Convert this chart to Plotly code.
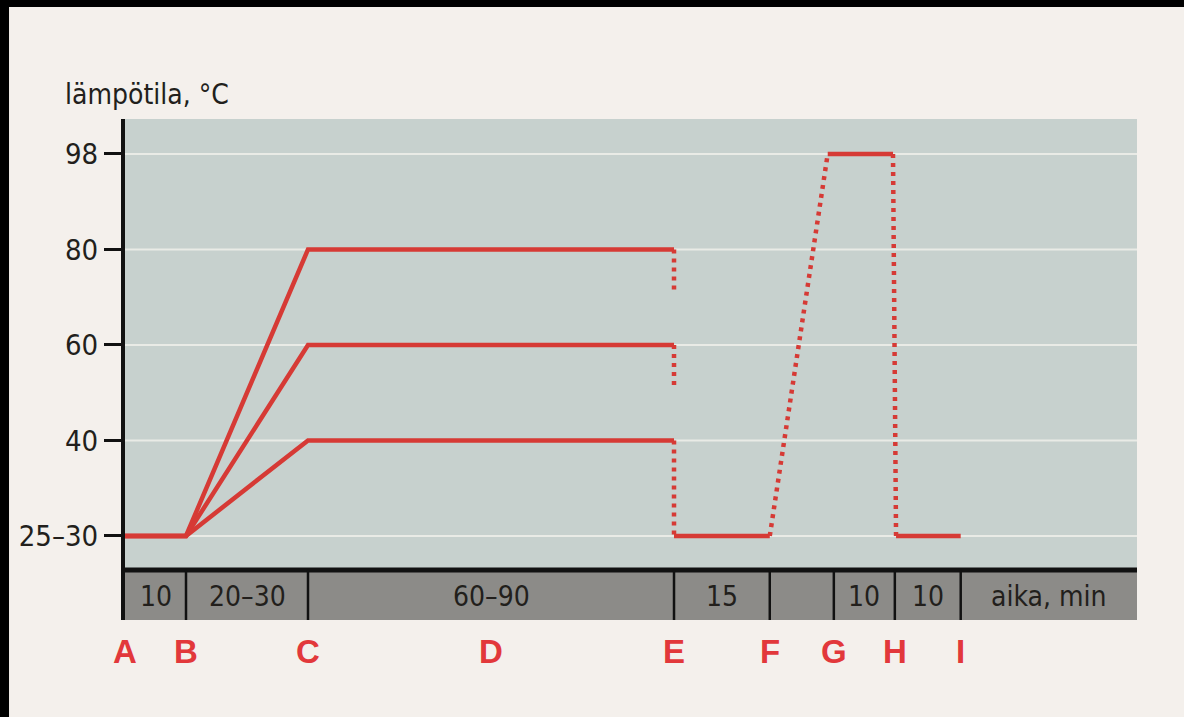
import numpy as np
import plotly.graph_objects as go

# ---------------- data ----------------
# temperature axis (evenly spaced schematic levels)
tick_temps = [27.5, 40, 60, 80, 98]
tick_labels = ["25–30", "40", "60", "80", "98"]

# stage boundaries along the schematic time axis
stage_letters = ["A", "B", "C", "E", "F", "G", "H", "I"]
stage_x = [0, 10, 30, 90, 105.7, 116.2, 126.2, 137]
mid_letter = "D"
mid_x = 60
x_end = 165.9

# durations written in the time band (between consecutive boundaries, last to end)
band_labels = ["10", "20–30", "60–90", "15", "", "10", "10", "aika, min"]

# heating / holding curves
base_temp = 27.5
hold_temps = [80, 60, 40]
heat_x = [0, 10, 30, 90]
drop_to = [71, 51, 27.5]          # end of the dotted drop at E

# after-phase: cool, boil at 98, cool again
after_x = [90, 105.7, 115.2, 125.9, 126.4, 137]
after_y = [27.5, 27.5, 98, 98, 27.5, 27.5]
after_dash = ["solid", "dot", "solid", "dot", "solid"]

# ---------------- styles ----------------
RED = "#d63a35"
LETTER_RED = "#e2383b"
PLOT_BG = "#c7d1ce"
BAND = "#8c8b88"
PAPER = "#f4f0ec"
INK = "#221f1c"
FONT = "Liberation Sans Narrow, Arial Narrow, DejaVu Sans Condensed, sans-serif"
LW = 4.5
DOT = "4px,5px"


def ypos(t):
    """Map temperature to the evenly spaced schematic level."""
    return np.interp(t, tick_temps, np.arange(len(tick_temps)))


fig = go.Figure()

for T in hold_temps:
    fig.add_trace(go.Scatter(
        x=heat_x, y=ypos([base_temp, base_temp, T, T]),
        mode="lines", line=dict(color=RED, width=LW), hoverinfo="skip"))

for T, d in zip(hold_temps, drop_to):
    fig.add_trace(go.Scatter(
        x=[heat_x[-1], heat_x[-1]], y=ypos([T, d]),
        mode="lines", line=dict(color=RED, width=LW, dash=DOT), hoverinfo="skip"))

for i, ds in enumerate(after_dash):
    fig.add_trace(go.Scatter(
        x=after_x[i:i + 2], y=ypos(after_y[i:i + 2]),
        mode="lines",
        line=dict(color=RED, width=LW, dash="solid" if ds == "solid" else DOT),
        hoverinfo="skip"))

y_top = 4.366
band_top = -0.356
band_bot = -0.88

shapes = []
# grid lines at each tick level
for v in range(len(tick_temps)):
    shapes.append(dict(type="line", xref="paper", x0=0, x1=1, yref="y", y0=v, y1=v,
                       line=dict(color="#e9ebe6", width=2), layer="below"))
# time band
shapes.append(dict(type="rect", xref="paper", x0=0, x1=1, yref="y", y0=band_bot, y1=band_top,
                   fillcolor=BAND, line=dict(width=0), layer="below"))
shapes.append(dict(type="line", xref="paper", x0=0, x1=1, yref="y", y0=band_top, y1=band_top,
                   line=dict(color="#111", width=5)))
for xb in stage_x[1:]:
    shapes.append(dict(type="line", xref="x", x0=xb, x1=xb, yref="y", y0=band_top, y1=band_bot,
                       line=dict(color="#111", width=2.5)))
# black photo borders (top and left)
shapes.append(dict(type="rect", xref="paper", x0=-0.13, x1=1.05, yref="paper", y0=1.2236, y1=1.26,
                   fillcolor="black", line=dict(width=0)))
shapes.append(dict(type="rect", xref="paper", x0=-0.13, x1=-0.1146, yref="paper", y0=-0.2, y1=1.26,
                   fillcolor="black", line=dict(width=0)))

annotations = []
# stage letters
for L, xb in list(zip(stage_letters, stage_x)) + [(mid_letter, mid_x)]:
    annotations.append(dict(x=xb, y=-0.062, xref="x", yref="paper", text=L, showarrow=False,
                            font=dict(family="Liberation Sans, Arial, sans-serif", size=33,
                                      color=LETTER_RED, weight="bold"),
                            xanchor="center", yanchor="middle"))
# band labels
edges = stage_x + [x_end]
for lab, a, b in zip(band_labels, edges[:-1], edges[1:]):
    if lab:
        annotations.append(dict(x=(a + b) / 2, y=(band_top + band_bot) / 2 - 0.02, xref="x", yref="y",
                                text=lab, showarrow=False,
                                font=dict(family=FONT, size=28, color=INK),
                                xanchor="center", yanchor="middle"))
# axis title
annotations.append(dict(x=-0.0613, y=1.048, xref="paper", yref="paper", text="lämpötila, °C",
                        showarrow=False, font=dict(family=FONT, size=28, color=INK),
                        xanchor="left", yanchor="middle"))

fig.update_layout(
    width=1184, height=717,
    margin=dict(l=125, r=47, t=119, b=97),
    paper_bgcolor=PAPER, plot_bgcolor=PLOT_BG,
    showlegend=False,
    shapes=shapes, annotations=annotations,
    xaxis=dict(range=[0, x_end], showgrid=False, zeroline=False, showticklabels=False,
               ticks="", showline=False, fixedrange=True),
    yaxis=dict(range=[band_bot, y_top], tickvals=list(range(len(tick_temps))), ticktext=tick_labels,
               showgrid=False, zeroline=False, showline=True, linecolor="#111", linewidth=4,
               ticks="outside", ticklen=17, tickwidth=2.5, tickcolor="#111",
               tickfont=dict(family=FONT, size=29, color=INK), fixedrange=True),
)

fig.write_html("out.html", config={"displayModeBar": False},
               post_script="document.body.style.margin='0';document.body.style.overflow='hidden';")
